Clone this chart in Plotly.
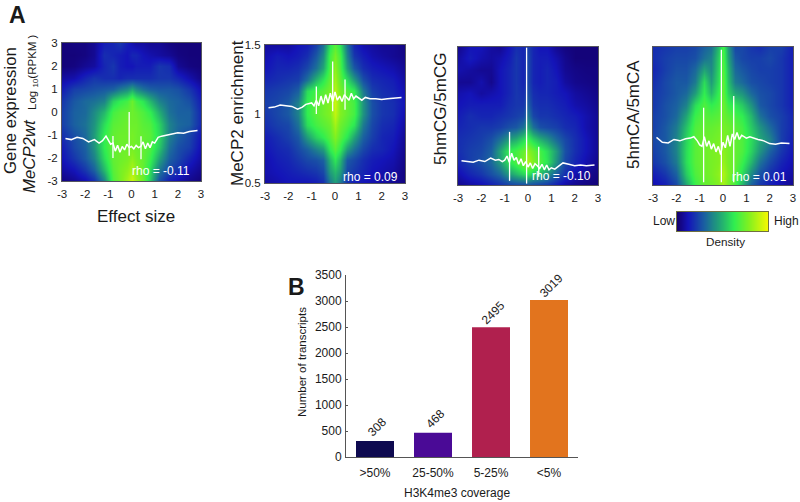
import plotly.graph_objects as go

W, H = 800, 502
GRID_X = [-3,-2.5,-2,-1.6,-1.2,-.8,-.5,-.2,0,.2,.5,.8,1.2,1.6,2,2.5,3]
GRID_Y = [3,2.5,2,1.5,1,.5,0,-.5,-1,-1.5,-2,-2.5,-3]
GRID_Y2 = [1.5,1.417,1.333,1.25,1.167,1.083,1,.917,.833,.75,.667,.583,.5]
GRID_YF = [1,.917,.833,.75,.667,.583,.5,.417,.333,.25,.167,.083,0]

Z_EXPR = [
[2,3,3,6,14,16,20,14,10,8,8,6,6,3,2,2,2],
[2,2,3,6,18,16,14,12,16,16,12,10,8,6,3,2,2],
[2,3,6,8,16,20,14,12,12,14,14,14,20,18,6,3,2],
[8,10,16,20,18,18,16,18,18,18,18,18,20,20,16,10,4],
[14,22,24,26,28,30,36,40,46,40,34,30,28,28,26,20,10],
[20,28,32,34,38,56,62,66,74,66,60,50,38,32,30,26,14],
[22,30,32,40,50,66,70,72,74,72,68,62,48,34,30,30,16],
[22,30,34,42,58,70,72,74,74,74,70,68,56,38,32,30,16],
[18,26,32,44,62,72,74,74,76,74,72,70,58,38,30,24,12],
[14,24,30,42,62,72,74,74,76,74,72,68,54,34,26,22,10],
[12,20,28,38,58,72,74,76,80,76,72,64,46,30,24,16,8],
[8,12,20,30,50,70,76,80,86,80,72,58,36,24,18,10,5],
[3,6,10,18,38,68,76,84,92,84,74,54,26,14,10,5,2],
]
Z_MECP2 = [
[8,8,8,12,14,22,34,60,70,60,34,16,10,8,6,6,3],
[10,14,12,14,18,28,40,66,76,66,38,20,14,10,8,6,4],
[12,16,16,18,24,34,46,68,80,68,44,28,18,14,12,10,6],
[16,18,20,22,34,50,60,72,84,72,58,44,26,18,16,14,8],
[20,22,24,30,58,66,70,76,88,76,68,62,36,22,18,16,10],
[22,24,28,38,62,70,74,78,92,78,72,66,42,26,20,18,12],
[20,24,28,38,62,70,74,78,90,78,72,66,42,26,20,18,10],
[18,22,24,34,58,66,70,74,84,74,68,60,36,24,18,16,8],
[14,18,22,28,44,56,62,70,78,70,60,46,30,22,16,14,6],
[12,16,18,24,30,38,44,62,70,62,44,34,24,18,16,12,5],
[10,14,16,20,24,26,30,50,60,50,28,24,18,14,12,10,4],
[10,12,14,16,18,20,24,44,50,44,24,20,16,12,10,8,3],
[8,10,12,12,12,14,18,36,44,36,18,14,12,10,8,6,3],
]
Z_CG = [
[5,12,12,8,6,12,18,16,22,16,12,12,6,3,2,2,2],
[8,14,10,8,10,14,20,16,24,16,14,14,10,5,2,2,2],
[10,8,6,6,12,16,20,16,24,16,14,16,12,6,4,3,3],
[6,6,10,5,12,16,20,16,24,16,14,16,14,8,5,4,3],
[10,12,8,10,12,16,20,18,26,18,16,16,14,12,8,6,4],
[12,14,14,14,14,18,20,20,30,20,18,18,16,14,10,8,5],
[14,18,16,16,18,20,22,24,36,24,20,20,18,16,14,10,6],
[16,18,20,20,22,26,28,34,46,34,26,24,22,18,16,10,6],
[18,20,22,26,34,44,48,56,64,56,48,42,32,24,18,12,6],
[18,22,24,30,46,62,66,72,80,74,66,58,44,26,18,12,6],
[16,22,26,32,44,60,68,76,86,78,68,60,42,24,16,10,5],
[10,16,20,26,32,44,50,56,60,54,50,42,30,18,10,6,3],
[5,8,10,14,18,22,24,24,26,24,22,20,14,8,5,3,2],
]
Z_CA = [
[18,20,22,22,24,30,34,50,66,44,24,24,20,18,22,22,14],
[18,22,24,24,26,34,38,54,68,46,28,24,22,22,24,20,14],
[16,22,26,26,32,46,40,56,70,50,32,28,24,22,22,20,14],
[18,24,28,28,36,58,44,58,72,52,36,32,26,24,22,20,14],
[20,24,28,32,44,62,50,62,72,56,46,42,32,26,24,20,14],
[20,26,30,38,58,68,62,66,74,64,60,54,42,28,24,20,14],
[22,26,32,46,64,70,68,70,74,70,66,62,50,34,26,22,16],
[22,28,36,52,68,72,72,74,76,74,70,66,54,42,32,22,16],
[24,28,38,56,70,74,74,76,78,74,72,68,58,46,38,22,14],
[22,28,38,58,70,74,76,78,80,76,72,68,56,42,30,20,12],
[20,26,36,58,70,74,76,78,82,76,72,64,50,34,24,16,10],
[14,20,30,54,68,74,76,80,86,78,70,58,40,26,18,12,8],
[10,14,24,46,64,72,74,78,84,76,66,50,30,20,14,10,5],
]

LINE_X = [-2.85,-2.6,-2.35,-2.1,-1.85,-1.6,-1.4,-1.25,-1.1,-1,-.9,-.8,-.7,-.6,-.5,-.4,-.3,-.2,-.1,0,.1,.2,.3,.4,.5,.6,.7,.8,.9,1,1.15,1.3,1.5,1.75,2,2.25,2.5,2.85]
LINE_EXPR = [-1.15,-1.2,-1.1,-1.15,-1.3,-1.2,-1.35,-1.25,-1.05,-1.2,-1.4,-1.35,-1.7,-1.45,-1.75,-1.5,-1.65,-1.4,-1.55,-1.5,-1.6,-1.45,-1.55,-1.5,-1.3,-1.6,-1.35,-1.55,-1.3,-1.35,-1.1,-1.05,-1.0,-.95,-.9,-.92,-.85,-.8]
LINE_MECP2 = [1.045,1.05,1.065,1.06,1.055,1.035,1.05,1.07,1.075,1.08,1.06,1.1,1.06,1.13,1.07,1.14,1.08,1.15,1.09,1.16,1.1,1.13,1.09,1.14,1.12,1.1,1.15,1.11,1.13,1.12,1.1,1.12,1.11,1.11,1.105,1.11,1.115,1.12]
LINE_CG = [.175,.17,.165,.18,.17,.195,.18,.185,.17,.18,.21,.165,.23,.18,.2,.15,.19,.14,.17,.13,.16,.12,.155,.14,.12,.15,.11,.145,.11,.125,.115,.135,.16,.15,.14,.145,.14,.145]
LINE_CA = [.345,.31,.305,.33,.32,.335,.34,.35,.32,.29,.28,.35,.28,.32,.26,.3,.24,.28,.22,.31,.27,.36,.28,.37,.33,.38,.33,.36,.35,.34,.35,.34,.33,.32,.3,.295,.305,.3]

SPIKE_X = [[-.8,-.1,.41],[-.8,-.1,.43],[-.79,-.06,.46],[-.83,-.07,.46]]
SPIKE_LO = [[-2.0,-1.9,-2.05],[1.0,1.02,1.03],[.03,.01,.06],[.02,.02,.02]]
SPIKE_HI = [[-1.04,0,-1.05],[1.2,1.38,1.25],[.385,.995,.277],[.56,.98,.645]]

X_TICKS = [-3,-2,-1,0,1,2,3]
Y_TICKS_EXPR = [3,2,1,0,-1,-2,-3]
Y_TICKS_MECP2 = [1.5,1,.5]
BAR_CATS = [">50%","25-50%","5-25%","<5%"]
BAR_VALUES = [308,468,2495,3019]
BAR_COLORS = ["#0e0a50","#4a0a96","#b0204e","#e2741e"]
BAR_TICKS = [0,500,1000,1500,2000,2500,3000,3500]
COLORBAR_Z = [0,10,20,30,40,50,60,70,80,90,100]
CSCALE = [[0,"#14006e"],[.12,"#1414b8"],[.3,"#1a60a0"],[.45,"#20a078"],[.62,"#30ee50"],[.78,"#80f020"],[1,"#f8f800"]]
FONT = "Liberation Sans"
TXT = "#1a1a1a"

fig = go.Figure()
layout = dict(template="none", width=W, height=H, margin=dict(l=0,r=0,t=0,b=0,pad=0), paper_bgcolor="white", plot_bgcolor="white",
              showlegend=False, font=dict(family=FONT, color=TXT, size=11.5))

def px(x0,x1): return [x0/W, x1/W]
def py(y0,y1): return [1-y1/H, 1-y0/H]

panels = [
 dict(box=(62,201,43,181), z=Z_EXPR, gy=GRID_Y, line=LINE_EXPR, yr=[-3,3], ticks=Y_TICKS_EXPR, rho="rho = -0.11", rx=192, ry=171),
 dict(box=(265,405,45,183), z=Z_MECP2, gy=GRID_Y2, line=LINE_MECP2, yr=[.5,1.5], ticks=Y_TICKS_MECP2, rho="rho = 0.09", rx=400, ry=177),
 dict(box=(458,598,47,185), z=Z_CG, gy=GRID_YF, line=LINE_CG, yr=[0,1], ticks=[], rho="rho = -0.10", rx=593, ry=176),
 dict(box=(653,793,47,185), z=Z_CA, gy=GRID_YF, line=LINE_CA, yr=[0,1], ticks=[], rho="rho = 0.01", rx=789, ry=177),
]
anns = []
for i,p in enumerate(panels):
    n = i+1
    xa, ya = f"x{n}", f"y{n}"
    b = p["box"]
    fig.add_trace(go.Heatmap(x=GRID_X,y=p["gy"],z=p["z"],zmin=0,zmax=100,colorscale=CSCALE,zsmooth="best",showscale=False,xaxis=xa,yaxis=ya))
    fig.add_trace(go.Scatter(x=LINE_X,y=p["line"],mode="lines",line=dict(color="white",width=1.5),xaxis=xa,yaxis=ya))
    for sx,lo,hi in zip(SPIKE_X[i],SPIKE_LO[i],SPIKE_HI[i]):
        fig.add_trace(go.Scatter(x=[sx,sx],y=[lo,hi],mode="lines",line=dict(color="white",width=1.3),xaxis=xa,yaxis=ya))
    layout[f"xaxis{n}"] = dict(domain=px(b[0],b[1]),range=[-3,3],anchor=ya,tickvals=X_TICKS,ticktext=[str(t) for t in X_TICKS],ticks="",automargin=False,
        showgrid=False,zeroline=False,showline=True,mirror=True,linecolor="#55555f",linewidth=1,tickfont=dict(size=11.5),ticklabelstandoff=2)
    layout[f"yaxis{n}"] = dict(domain=py(b[2],b[3]),range=p["yr"],anchor=xa,tickvals=p["ticks"],ticktext=[str(t) for t in p["ticks"]],ticks="",automargin=False,
        showticklabels=bool(p["ticks"]),showgrid=False,zeroline=False,showline=True,mirror=True,linecolor="#55555f",linewidth=1,tickfont=dict(size=11.5),ticklabelstandoff=1)
    anns.append(dict(x=p["rx"],y=p["ry"],text=p["rho"],font=dict(color="white",size=12)))

# colour bar
fig.add_trace(go.Heatmap(x=COLORBAR_Z,y=[0,1],z=[COLORBAR_Z,COLORBAR_Z],zmin=0,zmax=100,colorscale=CSCALE,zsmooth="best",showscale=False,xaxis="x5",yaxis="y5"))
layout["xaxis5"] = dict(domain=px(677,768),range=[0,100],anchor="y5",showticklabels=False,ticks="",automargin=False,showgrid=False,zeroline=False,showline=True,mirror=True,linecolor="#6f7040",linewidth=1)
layout["yaxis5"] = dict(domain=py(212,231),range=[0,1],anchor="x5",showticklabels=False,ticks="",automargin=False,showgrid=False,zeroline=False,showline=True,mirror=True,linecolor="#6f7040",linewidth=1)

# bars
fig.add_trace(go.Bar(x=BAR_CATS,y=BAR_VALUES,marker=dict(color=BAR_COLORS,line=dict(width=0)),xaxis="x6",yaxis="y6",width=0.655))
layout["xaxis6"] = dict(domain=px(346,578),range=[-.5,3.5],anchor="y6",type="category",ticks="",automargin=False,showline=True,linecolor="#555",linewidth=1,showgrid=False,zeroline=False,tickfont=dict(size=12),ticklabelstandoff=5)
layout["yaxis6"] = dict(domain=py(275,457),range=[0,3500],anchor="x6",tickvals=BAR_TICKS,ticks="inside",ticklen=2,tickcolor="#555",automargin=False,showline=True,linecolor="#555",linewidth=1,showgrid=False,zeroline=False,tickfont=dict(size=12),ticklabelstandoff=1)

a = []
for c,v in zip(BAR_CATS,BAR_VALUES):
    a.append(dict(xref="x6",yref="y6",x=c,y=v,text=str(v),textangle=-45,showarrow=False,yshift=14,xshift=2,font=dict(size=12,color=TXT)))
for e in anns:
    a.append(dict(xref="paper",yref="paper",x=e["x"]/W,y=1-e["y"]/H,text=e["text"],font=e["font"],xanchor="right",yanchor="middle",showarrow=False))

def label(x,y,text,size,angle=0,**f):
    a.append(dict(xref="paper",yref="paper",x=x/W,y=1-y/H,text=text,textangle=angle,showarrow=False,xanchor="center",yanchor="middle",font=dict(size=size,color=TXT,family=FONT,**f)))

label(17,15,"A",23,weight="bold")
label(296,287,"B",23,weight="bold")
label(10,111,"Gene expression",16.8,-90)
label(30,156,"MeCP2wt",16.8,-90,style="italic")
label(33,72,"Log <sub>10</sub>(RPKM )",11.5,-90)
label(136,216,"Effect size",17)
label(237,113,"MeCP2 enrichment",17,-90)
label(440,109,"5hmCG/5mCG",17,-90)
label(633,115,"5hmCA/5mCA",17,-90)
label(664,221,"Low",12)
label(786,221,"High",12)
label(725,241,"Density",11.7)
label(302,362,"Number of transcripts",11.5,-90)
label(457,493,"H3K4me3 coverage",12)
layout["annotations"] = a
fig.update_layout(**layout)
fig.write_html("out.html", config=dict(displayModeBar=False), post_script="document.body.style.margin='0';")
